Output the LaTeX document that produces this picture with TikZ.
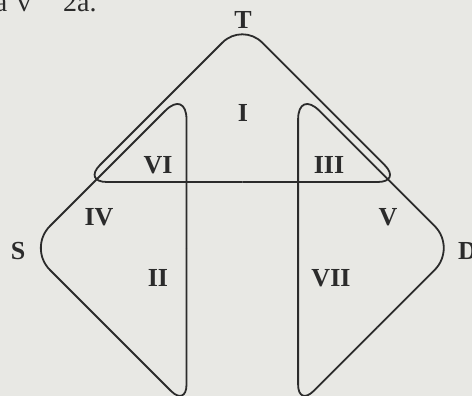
\documentclass[tikz,border=0pt]{standalone}
\usepackage{fontspec}
\setmainfont{Liberation Serif}
\usetikzlibrary{calc}
\definecolor{bgcol}{HTML}{E8E8E4}
\definecolor{ink}{HTML}{2B2B2B}
\tikzset{
  outline/.style={draw=ink, line width=1.8pt, line cap=butt},
  lab/.style={font=\fontsize{26}{26}\selectfont\bfseries, text=ink, inner sep=0pt},
  scrap/.style={font=\fontsize{28}{28}\selectfont, text=ink, inner sep=0pt}
}
\begin{document}
\begin{tikzpicture}[x=1pt, y=-1pt]
\useasboundingbox (0,0) rectangle (472,396);
\fill[bgcol] (0,0) rectangle (472,396);
\clip (0,0) rectangle (472,396);
% cropped line of text above the figure
\node[scrap, anchor=base east] (ta) at (7.5,12) {a};
\node[scrap, anchor=base west] (tv) at (17,12) {v};
\node[scrap, anchor=base west] (t2) at (63,12) {2a.};
% vertices
\coordinate (A)  at (242.3,22.7);
\coordinate (TL) at (83,182);
\coordinate (TR) at (401.6,182);
\coordinate (St) at (186.5,89.5);
\coordinate (Sl) at (28,248);
\coordinate (Sb) at (186.5,406.5);
\coordinate (Dt) at (298.1,89.5);
\coordinate (Dr) at (456.6,248);
\coordinate (Db) at (298.1,406.5);
% T triangle
\draw[outline, rounded corners=28pt] ($(TR)!0.5!(A)$) -- (A) -- ($(A)!0.5!(TL)$);
\draw[outline, rounded corners=24pt] ($(A)!0.5!(TL)$) -- (TL) -- ($(TL)!0.5!(TR)$);
\draw[outline, rounded corners=24pt] ($(TL)!0.5!(TR)$) -- (TR) -- ($(TR)!0.5!(A)$);
% S triangle
\draw[outline, rounded corners=30pt] ($(Sb)!0.5!(St)$) -- (St) -- ($(St)!0.5!(Sl)$);
\draw[outline, rounded corners=31pt] ($(St)!0.5!(Sl)$) -- (Sl) -- ($(Sl)!0.5!(Sb)$);
\draw[outline, rounded corners=22pt] ($(Sl)!0.5!(Sb)$) -- (Sb) -- ($(Sb)!0.5!(St)$);
% D triangle
\draw[outline, rounded corners=30pt] ($(Db)!0.5!(Dt)$) -- (Dt) -- ($(Dt)!0.5!(Dr)$);
\draw[outline, rounded corners=31pt] ($(Dt)!0.5!(Dr)$) -- (Dr) -- ($(Dr)!0.5!(Db)$);
\draw[outline, rounded corners=22pt] ($(Dr)!0.5!(Db)$) -- (Db) -- ($(Db)!0.5!(Dt)$);
% labels
\node[lab] (lT)   at (243,20)  {T};
\node[lab] (lI)   at (243,113) {I};
\node[lab] (lVI)  at (158,165) {VI};
\node[lab] (lIII) at (329,165) {III};
\node[lab] (lIV)  at (99,217)  {IV};
\node[lab] (lV)   at (388,217) {V};
\node[lab] (lS)   at (18,251)  {S};
\node[lab, anchor=west] (lD) at (458,251) {D};
\node[lab] (lII)  at (158,278) {II};
\node[lab] (lVII) at (331,278) {VII};
\end{tikzpicture}
\end{document}
